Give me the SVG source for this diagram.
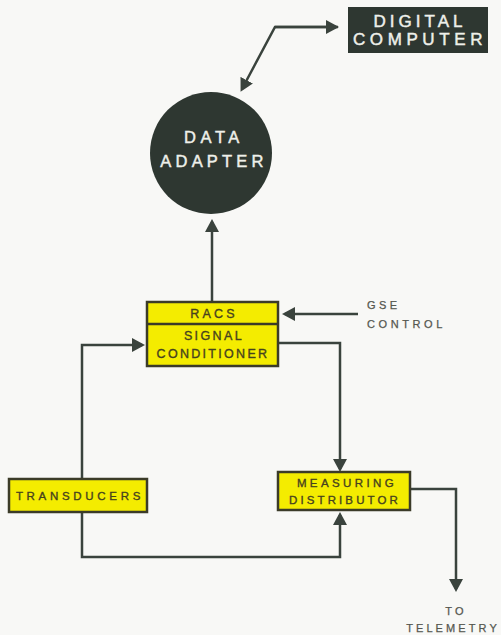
<svg xmlns="http://www.w3.org/2000/svg" width="501" height="635" viewBox="0 0 501 635">
  <defs>
    <marker id="ah" viewBox="0 0 13 14" refX="10" refY="7" markerWidth="13" markerHeight="14" orient="auto" markerUnits="userSpaceOnUse">
      <path d="M0,0 L13,7 L0,14 z" fill="#3a433d"/>
    </marker>
    <style>
      .dark { fill: #2e3731; }
      .ybox { fill: #f4ec00; stroke: #3b3b28; stroke-width: 2.5; }
      .wl { font-family: "Liberation Sans", Arial, sans-serif; fill: #eef0ea; stroke: #eef0ea; stroke-width: 0.45; text-anchor: middle; }
      .yl { font-family: "Liberation Sans", Arial, sans-serif; fill: #46421f; stroke: #46421f; stroke-width: 0.35; text-anchor: middle; }
      .gl { font-family: "Liberation Sans", Arial, sans-serif; fill: #55574f; stroke: #55574f; stroke-width: 0.25; }
      .wire { fill: none; stroke: #3a433d; stroke-width: 2.5; stroke-linejoin: miter; }
    </style>
  </defs>

  <rect width="501" height="635" fill="#f8f8f6"/>

  <!-- connectors -->
  <g id="connectors">
    <!-- data adapter <-> digital computer -->
    <path class="wire" d="M338,27 H275 L242,89" marker-end="url(#ah)"/>
    <path class="wire" d="M275,27 H336" marker-end="url(#ah)"/>
    <!-- RACS up to data adapter -->
    <path class="wire" d="M212,302 V222" marker-end="url(#ah)"/>
    <!-- GSE control into RACS -->
    <path class="wire" d="M358,314 H285" marker-end="url(#ah)"/>
    <!-- signal conditioner to measuring distributor -->
    <path class="wire" d="M279,343 H340 V469" marker-end="url(#ah)"/>
    <!-- transducers up into signal conditioner -->
    <path class="wire" d="M82,478 V345 H142" marker-end="url(#ah)"/>
    <!-- transducers round into measuring distributor -->
    <path class="wire" d="M82,513 V557 H340 V515" marker-end="url(#ah)"/>
    <!-- measuring distributor out to telemetry -->
    <path class="wire" d="M410,489 H456 V589" marker-end="url(#ah)"/>
  </g>

  <g id="digital-computer">
    <rect class="dark" x="348" y="7" width="140" height="46"/>
    <text class="wl" x="420" y="27" font-size="17" letter-spacing="4">DIGITAL</text>
    <text class="wl" x="420" y="45" font-size="17" letter-spacing="4.6">COMPUTER</text>
  </g>

  <g id="data-adapter">
    <circle class="dark" cx="211" cy="153" r="61"/>
    <text class="wl" x="214" y="143" font-size="16.5" letter-spacing="4.6">DATA</text>
    <text class="wl" x="214" y="167" font-size="16.5" letter-spacing="4.2">ADAPTER</text>
  </g>

  <g id="racs-signal-conditioner">
    <rect class="ybox" x="147" y="302" width="131" height="64"/>
    <line x1="147" y1="324" x2="278" y2="324" stroke="#3b3b28" stroke-width="2.5"/>
    <text class="yl" x="214" y="318" font-size="12.5" letter-spacing="3.2">RACS</text>
    <text class="yl" x="214" y="340" font-size="12.5" letter-spacing="2.4">SIGNAL</text>
    <text class="yl" x="213" y="358" font-size="12.5" letter-spacing="2.3">CONDITIONER</text>
  </g>

  <g id="gse-control">
    <text class="gl" x="367" y="309" font-size="11" letter-spacing="3.4">GSE</text>
    <text class="gl" x="367" y="328" font-size="11" letter-spacing="3.6">CONTROL</text>
  </g>

  <g id="transducers">
    <rect class="ybox" x="9" y="479" width="138" height="33"/>
    <text class="yl" x="80" y="500" font-size="11.5" letter-spacing="3.7">TRANSDUCERS</text>
  </g>

  <g id="measuring-distributor">
    <rect class="ybox" x="278" y="472" width="132" height="38"/>
    <text class="yl" x="347" y="487" font-size="11.5" letter-spacing="3.4">MEASURING</text>
    <text class="yl" x="345" y="504" font-size="11.5" letter-spacing="3.1">DISTRIBUTOR</text>
  </g>

  <g id="telemetry">
    <text class="gl" x="456" y="615" font-size="11" letter-spacing="3.2" text-anchor="middle">TO</text>
    <text class="gl" x="453" y="632" font-size="11" letter-spacing="3.1" text-anchor="middle">TELEMETRY</text>
  </g>
</svg>
